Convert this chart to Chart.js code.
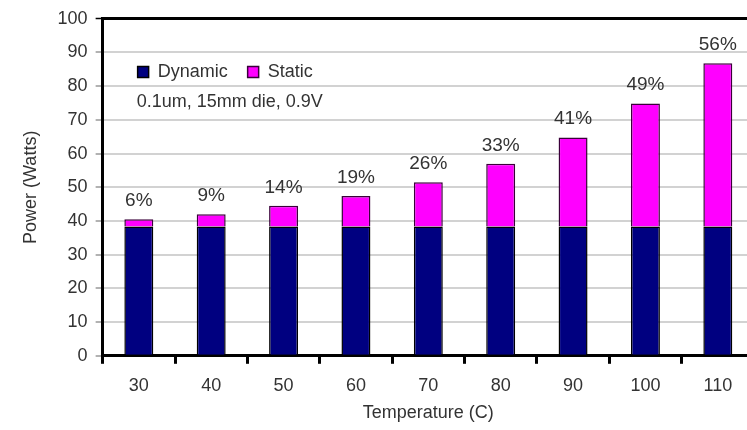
<!DOCTYPE html>
<html><head><meta charset="utf-8">
<script src="https://cdn.jsdelivr.net/npm/chart.js@4.4.1/dist/chart.umd.min.js"></script>
<style>
html,body{margin:0;padding:0;background:#fff;overflow:hidden;width:747px;height:430px}
#wrap{position:relative;width:760px;height:430px}
</style>
</head><body>
<div id="wrap"><canvas id="c" width="760" height="430"></canvas></div>
<script>
// ---- data ----
const temperatures = ['30','40','50','60','70','80','90','100','110'];
const dynamicPower = [38.4, 38.4, 38.4, 38.4, 38.4, 38.4, 38.4, 38.4, 38.4];
const staticPower  = [2.1, 3.6, 6.1, 9.0, 13.1, 18.6, 26.4, 36.5, 48.4];
const staticShare  = ['6%','9%','14%','19%','26%','33%','41%','49%','56%'];
const seriesNames  = ['Dynamic','Static'];
const noteText     = '0.1um, 15mm die, 0.9V';
const xTitle       = 'Temperature (C)';
const yTitle       = 'Power (Watts)';
const yMin = 0, yMax = 100, yStep = 10;

const FONT = "'Liberation Sans', Arial, sans-serif";
const TXT = '#333333';

const annot = {
  id: 'annot',
  beforeUpdate(chart) {
    if (chart.legend) chart.legend.isHorizontal = () => true;
  },
  afterLayout(chart) {
    const lg = chart.legend;
    if (!lg) return;
    const pad = lg.options.labels.padding;
    const dx = (chart.chartArea.left + 35 - pad) - lg.left;
    const dy = (63 - pad) - lg.top;
    lg.left += dx; lg.right += dx; lg.top += dy; lg.bottom += dy;
  },
  afterDatasetsDraw(chart) {
    const ctx = chart.ctx;
    const meta = chart.getDatasetMeta(1);
    ctx.save();
    ctx.fillStyle = TXT;
    ctx.font = "19px " + FONT;
    ctx.textAlign = 'center';
    ctx.textBaseline = 'alphabetic';
    meta.data.forEach((bar, i) => {
      ctx.fillText(staticShare[i], bar.x, bar.y - 13);
    });
    ctx.font = "18px " + FONT;
    ctx.textAlign = 'left';
    ctx.textBaseline = 'middle';
    ctx.fillText(noteText, chart.chartArea.left + 34, 102);
    ctx.restore();
  }
};

new Chart(document.getElementById('c'), {
  type: 'bar',
  data: {
    labels: temperatures,
    datasets: [
      {label: seriesNames[0], data: dynamicPower, backgroundColor: '#000080', borderColor: '#000000', borderWidth: 1.5},
      {label: seriesNames[1], data: staticPower, backgroundColor: '#ff00ff', borderColor: '#3a003a', borderWidth: 1.5}
    ]
  },
  options: {
    responsive: false,
    animation: false,
    devicePixelRatio: 1,
    layout: {padding: {top: 17, right: 6, bottom: 0, left: 16}},
    datasets: {bar: {barPercentage: 0.4, categoryPercentage: 1}},
    plugins: {
      legend: {
        position: 'chartArea', align: 'start',
        labels: {boxWidth: 11, boxHeight: 11, padding: 20, color: TXT, font: {family: FONT, size: 18}}
      },
      tooltip: {enabled: false}
    },
    scales: {
      x: {
        stacked: true,
        offset: true,
        grid: {offset: true, drawOnChartArea: false, drawTicks: true, tickLength: 8, tickWidth: 3, tickColor: '#000'},
        border: {display: true, color: '#000', width: 3},
        ticks: {padding: 11, color: TXT, font: {family: FONT, size: 18}, maxRotation: 0},
        title: {display: true, text: xTitle, color: TXT, font: {family: FONT, size: 18}, padding: {top: -5, bottom: 6}}
      },
      y: {
        stacked: true,
        min: yMin, max: yMax,
        ticks: {stepSize: yStep, padding: 8, color: TXT, font: {family: FONT, size: 18}},
        grid: {
          color: c => (c.tick && c.tick.value === yMax) ? '#000' : '#d2d2d2',
          lineWidth: c => (c.tick && c.tick.value === yMax) ? 3 : 2,
          tickColor: c => (c.tick && c.tick.value === yMax) ? '#000' : '#999',
          tickLength: 7, tickWidth: 1.5
        },
        border: {color: '#000', width: 3},
        title: {display: true, text: yTitle, color: TXT, font: {family: FONT, size: 18}, padding: {top: 4, bottom: 8}}
      }
    }
  },
  plugins: [annot]
});
</script>
</body></html>
